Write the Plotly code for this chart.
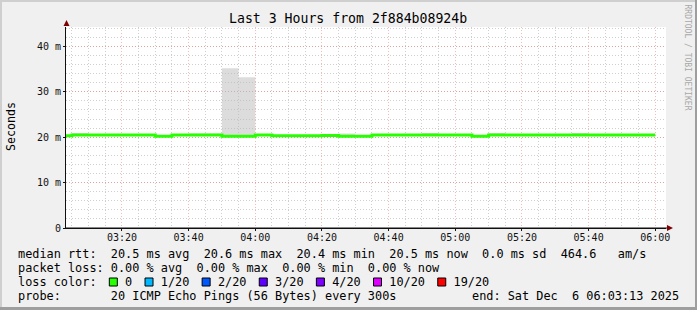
import plotly.graph_objects as go

# ---------------- data ----------------
step_times = ["03:00", "03:05", "03:10", "03:15", "03:20", "03:25", "03:30", "03:35",
              "03:40", "03:45", "03:50", "03:55", "04:00", "04:05", "04:10", "04:15",
              "04:20", "04:25", "04:30", "04:35", "04:40", "04:45", "04:50", "04:55",
              "05:00", "05:05", "05:10", "05:15", "05:20", "05:25", "05:30", "05:35",
              "05:40", "05:45", "05:50", "05:55"]
end_step = "06:00"
median_ms = [20.3, 20.5, 20.5, 20.5, 20.5, 20.5, 20.2, 20.5,
             20.5, 20.5, 20.2, 20.2, 20.5, 20.3, 20.3, 20.3,
             20.4, 20.2, 20.2, 20.5, 20.5, 20.5, 20.5, 20.5,
             20.5, 20.2, 20.5, 20.5, 20.5, 20.5, 20.5, 20.5,
             20.5, 20.5, 20.5, 20.5]
smoke_max_ms = [20.3, 20.9, 20.5, 20.5, 20.5, 20.5, 20.2, 20.6,
                20.8, 20.8, 35.2, 33.2, 20.5, 20.3, 20.3, 20.3,
                20.4, 20.8, 20.2, 20.5, 20.5, 20.5, 20.9, 20.5,
                20.7, 20.2, 20.9, 20.5, 20.5, 20.5, 20.7, 20.9,
                20.5, 20.5, 20.5, 20.5]
y_tick_vals = [0, 10, 20, 30, 40]
y_tick_text = ["0", "10 m", "20 m", "30 m", "40 m"]
loss_labels = ["0", "1/20", "2/20", "3/20", "4/20", "10/20", "19/20"]
loss_colors = ["#26ff00", "#00b8ff", "#0059ff", "#5e00ff", "#7e00ff", "#dd00ff", "#ff0000"]
title_text = "Last 3 Hours from 2f884b08924b"
rtt_line = "median rtt:  20.5 ms avg  20.6 ms max  20.4 ms min  20.5 ms now  0.0 ms sd  464.6   am/s"
loss_line = "packet loss: 0.00 % avg  0.00 % max  0.00 % min  0.00 % now"
probe_line = "probe:       20 ICMP Echo Pings (56 Bytes) every 300s"
end_line = "end: Sat Dec  6 06:03:13 2025"
day = "2025-12-06 "

# ---------------- geometry ----------------
W, H = 697, 310
L, T, PW, PH = 66, 27, 600, 201
R, B = W - L - PW, H - T - PH
def px(x): return (x - L) / PW
def py(y): return (T + PH - y) / PH

MONO = "DejaVu Sans Mono"
CW = 7.14
FS = CW / 0.602
nb = lambda s: s.replace(" ", "\u00a0")

xs = [day + t for t in step_times] + [day + end_step]
med = median_ms + [median_ms[-1]]
smx = smoke_max_ms + [smoke_max_ms[-1]]

fig = go.Figure()
fig.add_trace(go.Scatter(x=xs, y=med, mode="lines", line=dict(width=0, shape="hv"),
                         hoverinfo="skip", showlegend=False))
fig.add_trace(go.Scatter(x=xs, y=smx, mode="lines", line=dict(width=0, shape="hv"),
                         fill="tonexty", fillcolor="rgba(185,185,185,0.5)",
                         hoverinfo="skip", showlegend=False))
fig.add_trace(go.Scatter(x=xs, y=med, mode="lines", line=dict(width=3, shape="hv", color="#26ff00"),
                         showlegend=False))

major_grid = "rgba(235,120,120,0.5)"
minor_grid = "rgba(160,160,160,0.5)"

fig.update_xaxes(type="date", range=[day + "03:03:13", day + "06:03:13"],
                 tickformat="%H:%M", dtick=20 * 60 * 1000, tick0=day + "03:20:00",
                 showgrid=True, gridcolor=major_grid, griddash="1px,2px", gridwidth=1,
                 minor=dict(dtick=5 * 60 * 1000, tick0=day + "03:00:00", showgrid=True,
                            gridcolor=minor_grid, griddash="1px,2px", gridwidth=1),
                 showline=True, linecolor="#101010", linewidth=1,
                 ticks="outside", ticklen=2, tickcolor="#101010", ticklabelstandoff=-2,
                 tickfont=dict(family=MONO, size=10, color="#111"),
                 zeroline=False, fixedrange=True)
fig.update_yaxes(range=[0, PH / 4.54], tickmode="array", tickvals=y_tick_vals, ticktext=y_tick_text,
                 showgrid=True, gridcolor=major_grid, griddash="1px,2px", gridwidth=1,
                 minor=dict(tickmode="linear", dtick=2, tick0=0, showgrid=True,
                            gridcolor=minor_grid, griddash="1px,2px", gridwidth=1),
                 showline=True, linecolor="#101010", linewidth=1,
                 ticks="outside", ticklen=2, tickcolor="#101010",
                 tickfont=dict(family=MONO, size=10, color="#111"),
                 zeroline=False, fixedrange=True)

ann = []
def text(x, y, s, size=FS, xanchor="left", color="#000", angle=0, yanchor="middle"):
    ann.append(dict(x=px(x), y=py(y), xref="paper", yref="paper", text=nb(s), showarrow=False,
                    xanchor=xanchor, yanchor=yanchor, textangle=angle,
                    font=dict(family=MONO, size=size, color=color)))

text(347.5, 19, title_text, size=13.2, xanchor="center")
text(11, 127, "Seconds", size=11.6, xanchor="center", angle=-90)
text(687.5, 57, "RRDTOOL / TOBI OETIKER", size=8, xanchor="center", angle=90, color="#a8a8a8")
text(16, 254, rtt_line)
text(16, 268, loss_line)

# loss color line
loss_str = "loss color:  "
box_idx = []
for lab in loss_labels:
    box_idx.append(len(loss_str))
    loss_str += "  " + lab + "  "
text(16, 282, loss_str.rstrip())
text(16, 296, probe_line)
text(681, 296, end_line, xanchor="right")

shapes = []
for i, c in zip(box_idx, loss_colors):
    x0 = 16 + i * CW + 0.5
    shapes.append(dict(type="rect", xref="paper", yref="paper",
                       x0=px(x0), x1=px(x0 + 8), y0=py(278), y1=py(286),
                       fillcolor=c, line=dict(color="#000", width=1)))

# arrows
shapes.append(dict(type="path", xref="paper", yref="paper",
                   path=f"M {px(63.5)},{py(26)} L {px(69.5)},{py(26)} L {px(66.5)},{py(20)} Z",
                   fillcolor="#7f0000", line=dict(width=0)))
shapes.append(dict(type="line", xref="paper", yref="paper", x0=px(66), x1=px(668),
                   y0=py(228), y1=py(228), line=dict(color="#101010", width=1)))
shapes.append(dict(type="path", xref="paper", yref="paper",
                   path=f"M {px(667)},{py(225)} L {px(667)},{py(231)} L {px(673)},{py(228)} Z",
                   fillcolor="#7f0000", line=dict(width=0)))
# 3D frame
shapes += [
    dict(type="rect", xref="paper", yref="paper", x0=px(0), x1=px(W), y0=py(0), y1=py(2),
         fillcolor="#cfcfcf", line=dict(width=0), layer="below"),
    dict(type="rect", xref="paper", yref="paper", x0=px(0), x1=px(2), y0=py(0), y1=py(H),
         fillcolor="#cfcfcf", line=dict(width=0), layer="below"),
    dict(type="rect", xref="paper", yref="paper", x0=px(0), x1=px(W), y0=py(H - 3), y1=py(H),
         fillcolor="#9e9e9e", line=dict(width=0), layer="below"),
    dict(type="rect", xref="paper", yref="paper", x0=px(W - 2), x1=px(W), y0=py(0), y1=py(H),
         fillcolor="#9e9e9e", line=dict(width=0), layer="below"),
]

fig.update_layout(width=W, height=H, margin=dict(l=L, r=R, t=T, b=B, pad=0),
                  paper_bgcolor="#f0f0f0", plot_bgcolor="#ffffff",
                  annotations=ann, shapes=shapes, showlegend=False)
fig.write_html("out.html", config={"displayModeBar": False})
